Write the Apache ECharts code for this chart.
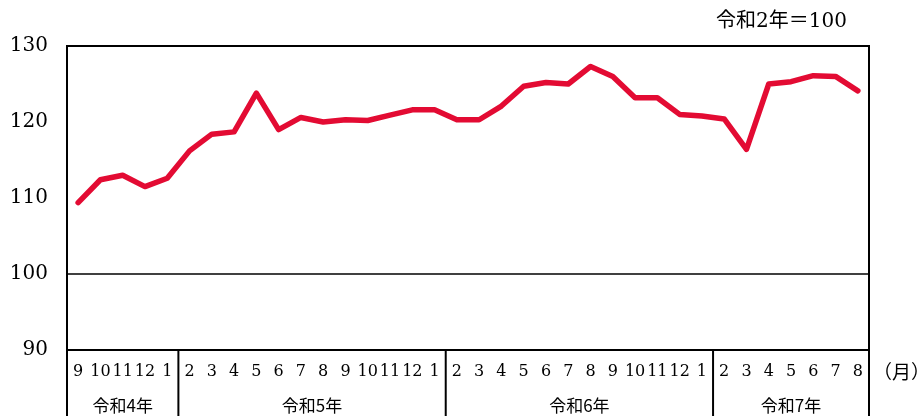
<!DOCTYPE html>
<html><head><meta charset="utf-8">
<script src="https://cdn.jsdelivr.net/npm/echarts@6/dist/echarts.min.js"></script>
<style>html,body{margin:0;padding:0;background:#fff}#c{width:921px;height:416px}</style>
</head><body><div id="c"></div>
<script>
const months = ['9','10','11','12','1','2','3','4','5','6','7','8','9','10','11','12','1','2','3','4','5','6','7','8','9','10','11','12','1','2','3','4','5','6','7','8'];
const values = [109.4,112.4,113.0,111.5,112.6,116.2,118.4,118.7,123.8,119.0,120.6,120.0,120.3,120.2,120.9,121.6,121.6,120.3,120.3,122.1,124.7,125.2,125.0,127.3,126.0,123.2,123.2,121.0,120.8,120.4,116.4,125.0,125.3,126.1,126.0,124.1];
const yearLabels = ['令和4年','令和5年','令和6年','令和7年'];
const yearSpans = [5,12,12,7];
const yMin = 90, yMax = 130, yStep = 10;
const baseLine = 100;
const unitNote = '令和2年＝100';
const monthUnit = '（月）';

const chart = echarts.init(document.getElementById('c'), null, {renderer:'canvas'});
chart.setOption({
  animation:false,
  backgroundColor:'#fff',
  grid:{left:67,right:52,top:46,bottom:66,show:true,borderColor:'#000',borderWidth:2,backgroundColor:'transparent'},
  xAxis:{type:'category',data:months,boundaryGap:true,
    axisLine:{show:false},axisTick:{show:false},splitLine:{show:false},
    axisLabel:{interval:0,margin:14,fontFamily:'DejaVu Serif',fontSize:16,color:'#000'}},
  yAxis:{type:'value',min:yMin,max:yMax,interval:yStep,
    axisLine:{show:false},axisTick:{show:false},splitLine:{show:false},
    axisLabel:{margin:19,fontFamily:'DejaVu Serif',fontSize:20,color:'#000'}},
  series:[{type:'line',data:values,symbol:'none',
    lineStyle:{color:'#E30B33',width:5.5,cap:'round',join:'round'},itemStyle:{color:'#E30B33'},
    markLine:{silent:true,symbol:'none',label:{show:false},animation:false,
      lineStyle:{color:'#000',width:1.5,type:'solid'},data:[{yAxis:baseLine}]}}]
});

const px = i => chart.convertToPixel({xAxisIndex:0}, i);
const step = px(1) - px(0);
const yAxisBottom = chart.convertToPixel({yAxisIndex:0}, yMin);
const yAxisTop = chart.convertToPixel({yAxisIndex:0}, yMax);
const H = chart.getHeight();
const els = [];
const bounds = [px(0) - step/2];
let start = 0;
yearSpans.forEach((n, g) => {
  const end = start + n;
  bounds.push(px(end - 1) + step/2);
  els.push({type:'text', x:(bounds[g] + bounds[g+1]) / 2, y:yAxisBottom + 56,
    style:{text:yearLabels[g], fill:'#000', font:'17px "Noto Sans CJK JP"', textAlign:'center', textVerticalAlign:'middle'}});
  start = end;
});
bounds.forEach(x => {
  els.push({type:'line', shape:{x1:x, y1:yAxisBottom, x2:x, y2:H}, style:{stroke:'#000', lineWidth:2}});
});
els.push({type:'text', x:bounds[bounds.length-1] + 4, y:yAxisBottom + 22,
  style:{text:monthUnit, fill:'#000', font:'19px "Noto Sans CJK JP"', textAlign:'left', textVerticalAlign:'middle'}});
els.push({type:'text', x:bounds[bounds.length-1] - 22, y:yAxisTop - 24,
  style:{text:unitNote, fill:'#000', font:'20px "DejaVu Serif","Noto Sans CJK JP"', textAlign:'right', textVerticalAlign:'middle'}});
chart.setOption({graphic:{elements:els}});
</script>
</body></html>
